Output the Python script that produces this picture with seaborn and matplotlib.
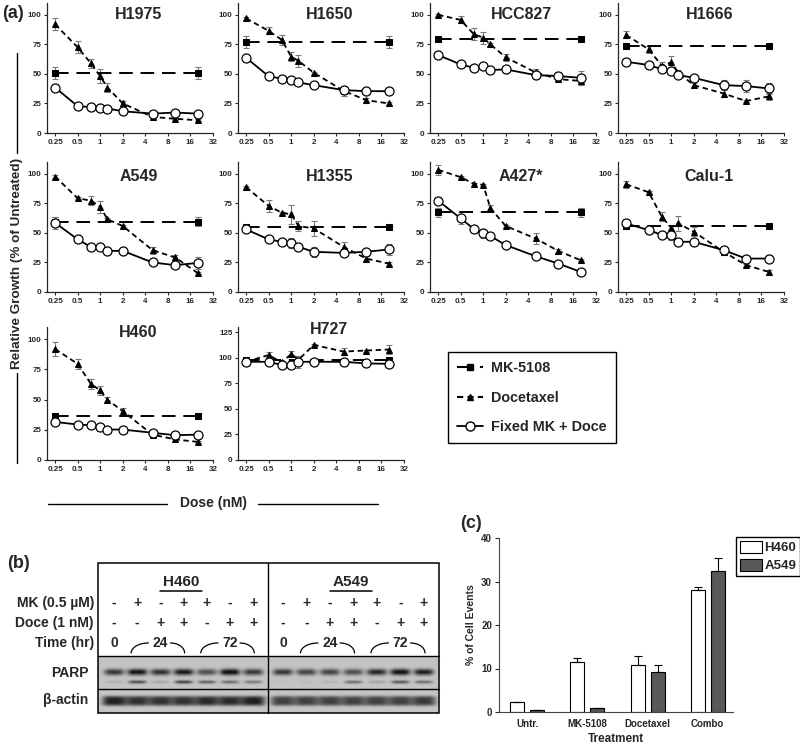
import numpy as np
import pandas as pd
import matplotlib
matplotlib.use("Agg")
import matplotlib.pyplot as plt
import seaborn as sns
from matplotlib.lines import Line2D
from matplotlib.patches import Patch, Rectangle
from matplotlib.ticker import NullLocator

sns.set_style("ticks")
plt.rcParams['font.family'] = ['Liberation Sans', 'DejaVu Sans']
plt.rcParams['font.weight'] = 'bold'

W, H = 800, 747

# ---------------- data, panel (a) ----------------
doses = [0.25, 0.5, 0.75, 1, 1.25, 2, 5, 10, 20]
cells = ["H1975", "H1650", "HCC827", "H1666", "A549", "H1355", "A427*", "Calu-1", "H460", "H727"]

mk_mean = [50.5, 77, 79.5, 74, 59.5, 55, 67.5, 56, 36.5, 97.5]
mk_sd = [5, 5, 2, 1, 4, 2, 4, 1.5, 1, 2]

doce_mean = {
    "H1975": [92, 72.5, 59, 48, 38.5, 25, 13.6, 12, 10.8],
    "H1650": [97, 86.4, 78.8, 64.6, 61, 51, 35.7, 27.8, 25],
    "HCC827": [100, 95.7, 83.6, 80.7, 75, 64, 51.3, 45.6, 44],
    "H1666": [83, 70.8, 57, 59.8, 51, 40.5, 33.4, 27, 31],
    "A549": [97.7, 79.3, 77.3, 72.2, 61.5, 55.8, 35.4, 29.2, 16.1],
    "H1355": [88.7, 72.8, 67.1, 65.7, 55.8, 53.8, 38.2, 28.3, 24],
    "A427*": [103.4, 97.2, 91.5, 90.7, 70.8, 55.8, 45.3, 34.8, 26.9],
    "Calu-1": [91.2, 84.4, 63.7, 54.4, 58, 51, 34, 22.7, 17],
    "H460": [91.8, 79.5, 63, 57.5, 49.9, 40.3, 21, 17, 15],
    "H727": [96, 102.6, 95.4, 103.6, 98, 112.5, 106, 107, 108],
}
doce_sd = {
    "H1975": [5, 5, 4, 6, 4, 2, 1.5, 1, 1],
    "H1650": [1, 3, 4, 4, 5, 1, 4, 2, 1],
    "HCC827": [1, 3, 5, 5, 1, 3, 3, 1, 3],
    "H1666": [3, 3, 3, 5, 2, 2, 3, 1, 3],
    "A549": [1, 1, 4, 5, 1, 1, 3, 2, 1],
    "H1355": [1, 5, 1, 8, 4, 6, 4, 2, 1],
    "A427*": [4, 1, 1, 1, 3, 1, 5, 2, 1],
    "Calu-1": [3, 1, 4, 2, 6, 4, 3, 1, 2],
    "H460": [6, 4, 4, 4, 2, 3, 1, 1, 1],
    "H727": [3, 3, 1, 3, 4, 1, 3, 1, 4],
}
combo_mean = {
    "H1975": [38.5, 22.7, 22, 21, 20.7, 18.4, 16.4, 17.3, 16.4],
    "H1650": [63.7, 48, 46, 44.8, 42.8, 40.5, 36.3, 35.4, 35.4],
    "HCC827": [66, 58, 55.2, 56.7, 53.3, 53.8, 49, 48.2, 46.7],
    "H1666": [60.3, 57.5, 54, 52.4, 49, 46.7, 40.5, 39.7, 37.7],
    "A549": [58.6, 44.5, 38.2, 38.2, 34.8, 34.8, 25, 22.7, 24.6],
    "H1355": [53, 44.5, 42.5, 41.6, 38.2, 34, 33.1, 34, 36],
    "A427*": [77.3, 62.3, 53.3, 49.6, 47.3, 39.7, 30.3, 24.1, 17],
    "Calu-1": [58, 52.4, 48.2, 48.2, 42.5, 42.5, 35.4, 28.3, 28.3],
    "H460": [31.5, 29.3, 28.8, 27.4, 25.2, 25.2, 22.5, 20.5, 21],
    "H727": [96, 96, 92.8, 93, 96, 96, 96, 94.4, 94],
}
combo_sd = {
    "H1975": [3, 1, 1, 1, 1, 1, 1, 1, 1],
    "H1650": [1, 1, 1, 1, 1, 1, 1, 1, 1],
    "HCC827": [1, 1, 1, 1, 1, 3, 3, 3, 6],
    "H1666": [2, 3, 2, 2, 2, 1, 4, 5, 5],
    "A549": [5, 1, 1, 1, 1, 2, 2, 1, 5],
    "H1355": [2, 1, 2, 4, 3, 4, 2, 2, 5],
    "A427*": [3, 5, 1, 4, 1, 1, 1, 1, 1],
    "Calu-1": [4, 3, 2, 4, 2, 1, 1, 1, 3],
    "H460": [1, 1, 1, 1, 1, 1, 1, 1, 1],
    "H727": [2, 1, 3, 1, 6, 1, 1, 3, 3],
}

xticks = [0.25, 0.5, 1, 2, 4, 8, 16, 32]
xticklabels = ["0.25", "0.5", "1", "2", "4", "8", "16", "32"]

# ---------------- data, panel (b) ----------------
mk_signs = ["-", "+", "-", "+", "+", "-", "+"]
doce_signs = ["-", "-", "+", "+", "-", "+", "+"]
parp_full = {"H460": [0.5, 0.62, 0.52, 0.6, 0.42, 0.66, 0.5],
             "A549": [0.5, 0.46, 0.46, 0.42, 0.55, 0.64, 0.58]}
parp_cleaved = {"H460": [0.08, 0.42, 0.1, 0.45, 0.35, 0.3, 0.26],
                "A549": [0.03, 0.04, 0.06, 0.3, 0.12, 0.38, 0.3]}
actin = {"H460": [0.55, 0.5, 0.5, 0.5, 0.52, 0.52, 0.55],
         "A549": [0.46, 0.46, 0.46, 0.46, 0.46, 0.46, 0.48]}

# ---------------- data, panel (c) ----------------
treatments = ["Untr.", "MK-5108", "Docetaxel", "Combo"]
h460_pct = [2.2, 11.5, 10.8, 28.0]
h460_sd = [0.15, 0.8, 2.1, 0.7]
a549_pct = [0.4, 1.0, 9.2, 32.3]
a549_sd = [0.0, 0.0, 1.6, 3.1]


def box(l, t, r, b):
    return [l / W, 1 - b / H, (r - l) / W, (b - t) / H]


fig = plt.figure(figsize=(8, 7.47), dpi=100)

rows_tb = [(3, 133), (162, 292), (327, 460)]
title_y = [0.91, 0.885, 0.96]
cols_l = [47, 238, 430, 618]

for i, cell in enumerate(cells):
    t, b = rows_tb[i // 4]
    l = cols_l[i % 4]
    ax = fig.add_axes(box(l, t, l + 166, b))
    ax.set_xscale("log", base=2)

    ax.errorbar(doses, doce_mean[cell], yerr=doce_sd[cell], fmt="none",
                ecolor="#7a7a7a", elinewidth=0.8, capsize=2, capthick=0.8, zorder=1)
    ax.errorbar(doses, combo_mean[cell], yerr=combo_sd[cell], fmt="none",
                ecolor="#7a7a7a", elinewidth=0.8, capsize=2, capthick=0.8, zorder=1)
    ax.errorbar([doses[0], doses[-1]], [mk_mean[i]] * 2, yerr=mk_sd[i], fmt="none",
                ecolor="#7a7a7a", elinewidth=0.8, capsize=2, capthick=0.8, zorder=1)

    sns.lineplot(x=[doses[0], doses[-1]], y=[mk_mean[i]] * 2, ax=ax, color="black",
                 linestyle=(0, (7, 4)), lw=1.4, marker="s", ms=4.5,
                 markeredgecolor="black", estimator=None, errorbar=None)
    sns.lineplot(x=doses, y=doce_mean[cell], ax=ax, color="black",
                 linestyle=(0, (3, 2)), lw=1.3, marker="^", ms=4.5,
                 markeredgecolor="black", estimator=None, errorbar=None)
    sns.lineplot(x=doses, y=combo_mean[cell], ax=ax, color="black",
                 linestyle="-", lw=1.3, marker="o", ms=6.5, markerfacecolor="white",
                 markeredgecolor="black", markeredgewidth=0.9, estimator=None, errorbar=None)

    ax.set_xlim(0.195, 32)
    ax.set_xticks(xticks)
    ax.set_xticklabels(xticklabels)
    ax.xaxis.set_minor_locator(NullLocator())
    if cell == "H727":
        ax.set_ylim(0, 130)
        ax.set_yticks([0, 25, 50, 75, 100, 125])
        ty = 0.98
    else:
        ax.set_ylim(0, 110)
        ax.set_yticks([0, 25, 50, 75, 100])
        ty = title_y[i // 4]
    ax.set_xlabel("")
    ax.set_ylabel("")
    ax.tick_params(labelsize=5.8, length=2.5, width=0.8, pad=1.5)
    for lab in ax.get_xticklabels() + ax.get_yticklabels():
        lab.set_fontweight("bold")
    sns.despine(ax=ax)
    for s in ["left", "bottom"]:
        ax.spines[s].set_linewidth(0.9)
    ax.text(0.55, ty, cell, transform=ax.transAxes, ha="center", va="center",
            fontsize=11.5, fontweight="bold")

# legend for (a)
handles_a = [
    Line2D([], [], color="black", linestyle=(0, (7, 4)), lw=1.5, marker="s", ms=5),
    Line2D([], [], color="black", linestyle=(0, (3, 2)), lw=1.5, marker="^", ms=5),
    Line2D([], [], color="black", lw=1.3, marker="o", ms=6.5, mfc="white", mec="black"),
]
leg = fig.legend(handles_a, ["MK-5108", "Docetaxel", "Fixed MK + Doce"], loc="upper left",
                 bbox_to_anchor=(448 / W, 1 - 352 / H), frameon=True, fancybox=False,
                 edgecolor="black", framealpha=1, prop={"weight": "bold", "size": 10.4},
                 handlelength=1.8, labelspacing=1.1, borderpad=0.6, handletextpad=0.6,
                 borderaxespad=0)
leg.get_frame().set_linewidth(1.0)

# shared labels for (a)
fig.text(17 / W, 1 - 263 / H, "Relative Growth (% of Untreated)", rotation=90,
         ha="center", va="center", fontsize=9.7, fontweight="bold")
fig.add_artist(Line2D([17 / W, 17 / W], [1 - 53 / H, 1 - 153 / H], color="black", lw=1))
fig.add_artist(Line2D([17 / W, 17 / W], [1 - 373 / H, 1 - 463 / H], color="black", lw=1))
fig.text(213 / W, 1 - 503 / H, "Dose (nM)", ha="center", va="center",
         fontsize=10, fontweight="bold")
fig.add_artist(Line2D([48 / W, 167 / W], [1 - 504 / H] * 2, color="black", lw=1))
fig.add_artist(Line2D([258 / W, 378 / W], [1 - 504 / H] * 2, color="black", lw=1))

fig.text(2 / W, 1 - 13 / H, "(a)", ha="left", va="center", fontsize=13, fontweight="bold")
fig.text(7 / W, 1 - 563 / H, "(b)", ha="left", va="center", fontsize=13, fontweight="bold")
fig.text(460 / W, 1 - 523 / H, "(c)", ha="left", va="center", fontsize=13, fontweight="bold")

# ---------------- panel (b): western blot ----------------
ax_b = fig.add_axes(box(0, 540, 460, 740))
ax_b.set_xlim(0, 460)
ax_b.set_ylim(740, 540)
ax_b.axis("off")

lanes = {"H460": 114 + 23.2 * np.arange(7), "A549": 283 + 23.5 * np.arange(7)}

xs = np.linspace(98, 439, 700)
ys = np.linspace(656, 713, 160)
X, Y = np.meshgrid(xs, ys)
img = np.full_like(X, 0.34)
for line in ["H460", "A549"]:
    for k, cx in enumerate(lanes[line]):
        img += parp_full[line][k] * np.exp(-((X - cx) / 10) ** 4 - ((Y - 672) / 3.2) ** 2)
        img += parp_cleaved[line][k] * np.exp(-((X - cx) / 9) ** 4 - ((Y - 682) / 1.7) ** 2)
        img += actin[line][k] * np.exp(-((X - cx) / 12) ** 4 - ((Y - 701) / 5.0) ** 4)
img = np.clip(img, 0, 0.92)
ax_b.imshow(img, cmap="Greys", vmin=0, vmax=1, extent=(98, 439, 713, 656),
            aspect="auto", interpolation="bilinear", zorder=1)

ax_b.add_patch(Rectangle((98, 563), 341, 150, fill=False, edgecolor="black", lw=1.1, zorder=3))
ax_b.plot([268, 268], [563, 713], color="black", lw=1.0, zorder=3)
ax_b.plot([98, 439], [656, 656], color="black", lw=1.0, zorder=3)
ax_b.plot([98, 439], [689, 689], color="black", lw=1.0, zorder=3)

for line, cx in [("H460", 181), ("A549", 351)]:
    ax_b.text(cx, 582, line, ha="center", va="center", fontsize=11, fontweight="bold")
    ax_b.plot([cx - 21, cx + 21], [590.5, 590.5], color="black", lw=1.1)

for label, y in [("MK (0.5 µM)", 603), ("Doce (1 nM)", 623), ("Time (hr)", 643)]:
    ax_b.text(94, y, label, ha="right", va="center", fontsize=10, fontweight="bold")
ax_b.text(89, 673, "PARP", ha="right", va="center", fontsize=10, fontweight="bold")
ax_b.text(88, 700, "β-actin", ha="right", va="center", fontsize=10, fontweight="bold")

tt = np.linspace(0, np.pi / 2, 30)
for line in ["H460", "A549"]:
    lx = lanes[line]
    for k in range(7):
        ax_b.text(lx[k], 603, mk_signs[k], ha="center", va="center", fontsize=10, fontweight="bold")
        ax_b.text(lx[k], 623, doce_signs[k], ha="center", va="center", fontsize=10, fontweight="bold")
    ax_b.text(lx[0], 643, "0", ha="center", va="center", fontsize=10, fontweight="bold")
    for a, m, b2, lab in [(1, 2, 3, "24"), (4, 5, 6, "72")]:
        ax_b.text(lx[m], 643, lab, ha="center", va="center", fontsize=10, fontweight="bold")
        x0, x1 = lx[a] - 6, lx[m] - 12
        ax_b.plot(x0 + (x1 - x0) * (1 - np.cos(tt)), 653 - 10 * np.sin(tt), color="black", lw=0.9)
        x2, x3 = lx[m] + 10, lx[b2] + 1
        ax_b.plot(x2 + (x3 - x2) * np.sin(tt), 653 - 10 * np.cos(tt), color="black", lw=0.9)

# ---------------- panel (c): bar chart ----------------
ax_c = fig.add_axes(box(499, 538, 733, 712))
dfc = pd.DataFrame({
    "Treatment": treatments * 2,
    "pct": h460_pct + a549_pct,
    "Line": ["H460"] * 4 + ["A549"] * 4,
})
sns.barplot(data=dfc, x="Treatment", y="pct", hue="Line", hue_order=["H460", "A549"],
            palette={"H460": "white", "A549": "#585858"}, width=0.667, gap=0.3,
            edgecolor="black", linewidth=0.8, errorbar=None, legend=False, ax=ax_c)
for cont, sds in zip(ax_c.containers, [h460_sd, a549_sd]):
    bx = [p.get_x() + p.get_width() / 2 for p in cont]
    bh = [p.get_height() for p in cont]
    ax_c.errorbar(bx, bh, yerr=[np.zeros(len(sds)), sds], fmt="none", ecolor="black",
                  elinewidth=0.8, capsize=3, capthick=0.8)
ax_c.set_xlim(-0.47, 3.42)
ax_c.set_ylim(0, 40)
ax_c.set_yticks([0, 10, 20, 30, 40])
ax_c.set_xlabel("Treatment", fontsize=8.5, fontweight="bold", labelpad=3)
ax_c.set_ylabel("% of Cell Events", fontsize=7.5, fontweight="bold", labelpad=4)
ax_c.tick_params(axis="y", labelsize=7, length=3, width=0.8, pad=2)
ax_c.tick_params(axis="x", labelsize=7, length=0, pad=5)
for lab in ax_c.get_xticklabels() + ax_c.get_yticklabels():
    lab.set_fontweight("bold")
sns.despine(ax=ax_c)
for s in ["left", "bottom"]:
    ax_c.spines[s].set_linewidth(0.8)
    ax_c.spines[s].set_color("#444444")

handles_c = [Patch(facecolor="white", edgecolor="black", lw=0.8),
             Patch(facecolor="#585858", edgecolor="black", lw=0.8)]
leg_c = fig.legend(handles_c, ["H460", "A549"], loc="upper left",
                   bbox_to_anchor=(736 / W, 1 - 537 / H), frameon=True, fancybox=False,
                   edgecolor="black", framealpha=1, prop={"weight": "bold", "size": 9.5},
                   handlelength=1.7, handleheight=1.0, labelspacing=0.35, borderpad=0.3,
                   handletextpad=0.15, borderaxespad=0)
leg_c.get_frame().set_linewidth(1.0)

fig.savefig("out.png", dpi=100)
